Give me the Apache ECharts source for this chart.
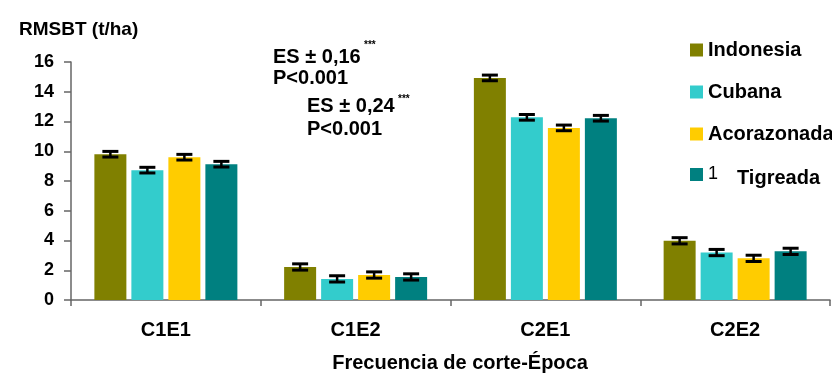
<!DOCTYPE html>
<html>
<head>
<meta charset="utf-8">
<script src="https://cdn.jsdelivr.net/npm/echarts@6/dist/echarts.min.js"></script>
<style>
  html, body { margin: 0; padding: 0; background: #fff; }
  #chart { width: 832px; height: 378px; }
</style>
</head>
<body>
<div id="chart"></div>
<script>
// Biomass (t/ha) by cutting frequency and season, per variety
const categories = ['C1E1', 'C1E2', 'C2E1', 'C2E2'];
const seriesNames = ['Indonesia', 'Cubana', 'Acorazonada', 'Tigreada'];
const indonesia   = [9.80, 2.22, 14.93, 3.98];
const cubana      = [8.73, 1.42, 12.28, 3.19];
const acorazonada = [9.60, 1.68, 11.57, 2.80];
const tigreada    = [9.13, 1.55, 12.22, 3.27];
// standard error per bar
const errIndonesia   = [0.19, 0.21, 0.19, 0.21];
const errCubana      = [0.19, 0.21, 0.19, 0.21];
const errAcorazonada = [0.19, 0.21, 0.19, 0.21];
const errTigreada    = [0.19, 0.21, 0.19, 0.21];
const yTicks = { min: 0, max: 16, interval: 2 };

const values = [indonesia, cubana, acorazonada, tigreada];
const errors = [errIndonesia, errCubana, errAcorazonada, errTigreada];
const colors = ['#808000', '#33CCCC', '#FFCC00', '#008080'];

const FONT = '"Liberation Sans", Arial, sans-serif';
const BAR_W = 32, BAR_GAP = 5;

const barSeries = seriesNames.map((name, k) => ({
  name: name,
  type: 'bar',
  data: values[k],
  barWidth: BAR_W,
  barGap: (BAR_GAP / BAR_W * 100) + '%',
  itemStyle: { color: colors[k] },
  z: 2
}));

const errSeries = seriesNames.map((name, k) => ({
  type: 'custom',
  silent: true,
  z: 5,
  data: categories.map((c, i) => [i, values[k][i], errors[k][i]]),
  renderItem: function (params, api) {
    const i = api.value(0), v = api.value(1), e = api.value(2);
    const off = (k - 1.5) * (BAR_W + BAR_GAP);
    const x = api.coord([i, v])[0] + off;
    const yTop = api.coord([i, v + e])[1];
    const yBot = api.coord([i, v - e])[1];
    const hw = 8;
    const st = { stroke: '#000', lineWidth: 3 };
    return {
      type: 'group',
      children: [
        { type: 'line', shape: { x1: x, y1: yTop, x2: x, y2: yBot }, style: { stroke: '#000', lineWidth: 2.5 } },
        { type: 'line', shape: { x1: x - hw, y1: yTop, x2: x + hw, y2: yTop }, style: st },
        { type: 'line', shape: { x1: x - hw, y1: yBot, x2: x + hw, y2: yBot }, style: st }
      ]
    };
  }
}));

const legendText = {
  fontFamily: FONT, fontSize: 20, fontWeight: 'bold', color: '#000', lineHeight: 20,
  rich: {
    g: { fontFamily: FONT, fontSize: 18, fontWeight: 'normal', color: '#000', width: 29, lineHeight: 20 },
    t: { fontFamily: FONT, fontSize: 20, fontWeight: 'bold', color: '#000', lineHeight: 20, padding: [8, 0, 0, 0] }
  }
};

const chart = echarts.init(document.getElementById('chart'), null, { renderer: 'canvas' });
chart.setOption({
  animation: false,
  backgroundColor: '#fff',
  textStyle: { fontFamily: FONT },
  title: {
    text: 'RMSBT (t/ha)',
    left: 14, top: 15,
    textStyle: { fontFamily: FONT, fontSize: 19, fontWeight: 'bold', color: '#000' }
  },
  grid: { left: 71, right: 2, top: 62, bottom: 73.5, containLabel: false },
  legend: [
    {
      data: seriesNames.slice(0, 3),
      orient: 'vertical',
      left: 685, top: 35,
      itemWidth: 13, itemHeight: 13,
      itemGap: 22,
      icon: 'rect',
      textStyle: legendText
    },
    {
      data: seriesNames.slice(3),
      orient: 'vertical',
      left: 685, top: 155.5,
      itemWidth: 13, itemHeight: 13,
      icon: 'rect',
      textStyle: legendText,
      formatter: function (name) { return '{g|1}{t|' + name + '}'; }
    }
  ],
  xAxis: {
    type: 'category',
    data: categories,
    name: 'Frecuencia de corte-Época',
    nameLocation: 'middle',
    nameGap: 53,
    nameTextStyle: { fontFamily: FONT, fontSize: 20, fontWeight: 'bold', color: '#000', padding: [0, 0, 0, 19] },
    axisLine: { show: true, lineStyle: { color: '#666', width: 1.5 } },
    axisTick: { show: true, length: 6, alignWithLabel: false, lineStyle: { color: '#666', width: 1.5 } },
    axisLabel: { fontFamily: FONT, fontSize: 20, fontWeight: 'bold', color: '#000', margin: 20 },
    splitLine: { show: false }
  },
  yAxis: {
    type: 'value',
    min: yTicks.min, max: yTicks.max, interval: yTicks.interval,
    axisLine: { show: true, lineStyle: { color: '#666', width: 1.5 } },
    axisTick: { show: true, length: 7, lineStyle: { color: '#666', width: 1.5 } },
    axisLabel: { fontFamily: FONT, fontSize: 18, fontWeight: 'bold', color: '#000', margin: 17 },
    splitLine: { show: false }
  },
  graphic: [
    { type: 'text', left: 273, top: 47, style: { text: 'ES ± 0,16', font: 'bold 20px ' + FONT, fill: '#000' } },
    { type: 'text', left: 364, top: 40, style: { text: '***', font: 'bold 10px ' + FONT, fill: '#000' } },
    { type: 'text', left: 273, top: 68, style: { text: 'P<0.001', font: 'bold 20px ' + FONT, fill: '#000' } },
    { type: 'text', left: 307, top: 96, style: { text: 'ES ± 0,24', font: 'bold 20px ' + FONT, fill: '#000' } },
    { type: 'text', left: 398, top: 94, style: { text: '***', font: 'bold 10px ' + FONT, fill: '#000' } },
    { type: 'text', left: 307, top: 119, style: { text: 'P<0.001', font: 'bold 20px ' + FONT, fill: '#000' } }
  ],
  series: barSeries.concat(errSeries)
});
</script>
</body>
</html>
